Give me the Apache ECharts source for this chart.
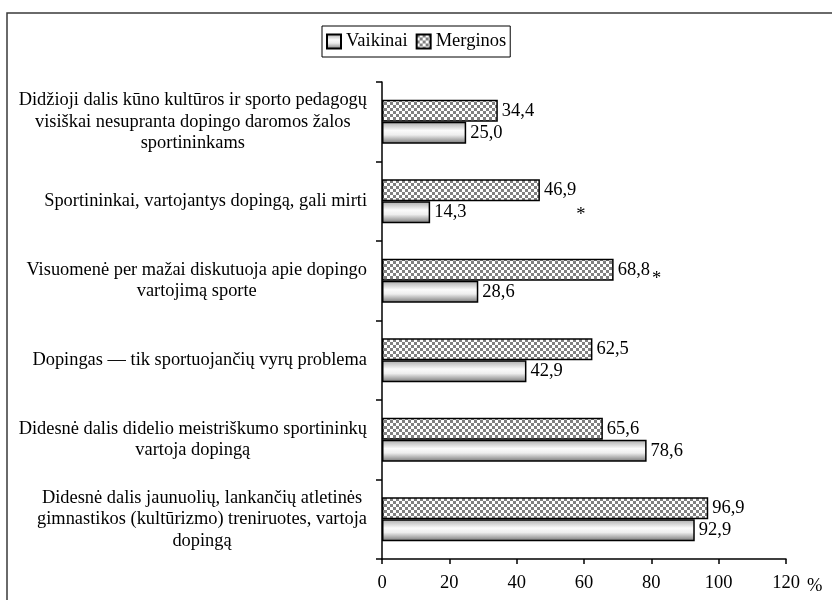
<!DOCTYPE html>
<html>
<head>
<meta charset="utf-8">
<script src="https://cdn.jsdelivr.net/npm/echarts@6/dist/echarts.min.js"></script>
<style>html,body{margin:0;padding:0;background:#fff;}#c{width:832px;height:600px;}</style>
</head>
<body>
<div id="c"></div>
<script>
// Categories listed bottom-to-top (as the category axis runs)
var categories = [
  'Didesnė dalis jaunuolių, lankančių atletinės\ngimnastikos (kultūrizmo) treniruotes, vartoja\ndopingą',
  'Didesnė dalis didelio meistriškumo sportininkų\nvartoja dopingą',
  'Dopingas — tik sportuojančių vyrų problema',
  'Visuomenė per mažai diskutuoja apie dopingo\nvartojimą sporte',
  'Sportininkai, vartojantys dopingą, gali mirti',
  'Didžioji dalis kūno kultūros ir sporto pedagogų\nvisiškai nesupranta dopingo daromos žalos\nsportininkams'
];
var vaikinai = [92.9, 78.6, 42.9, 28.6, 14.3, 25.0];
var merginos = [96.9, 65.6, 62.5, 68.8, 46.9, 34.4];
var significance = ['', '', '', '*', '*', ''];
var seriesNames = ['Vaikinai', 'Merginos'];
var xTicks = [0, 20, 40, 60, 80, 100, 120];

var FONT = "'Liberation Serif', 'Times New Roman', serif";

// checker pattern for Merginos
var pc = document.createElement('canvas');
pc.width = 6; pc.height = 6;
var pctx = pc.getContext('2d');
pctx.fillStyle = '#ffffff'; pctx.fillRect(0, 0, 6, 6);
pctx.fillStyle = '#808080'; pctx.fillRect(0, 0, 3, 3); pctx.fillRect(3, 3, 3, 3);

var gradFill = new echarts.graphic.LinearGradient(0, 0, 0, 1, [
  {offset: 0, color: '#a8a8a8'},
  {offset: 0.4, color: '#fbfbfb'},
  {offset: 0.6, color: '#eeeeee'},
  {offset: 1, color: '#747474'}
]);

function fmtNum(v) { return v.toFixed(1).replace('.', ','); }

var starOffsets = {3: [43, 9], 4: [41, 25]};
var starData = [];
significance.forEach(function (s, i) {
  if (s) {
    starData.push({
      coord: [merginos[i], i],
      label: {offset: starOffsets[i] || [36, 0]}
    });
  }
});

var chart = echarts.init(document.getElementById('c'), null, {renderer: 'canvas'});
chart.setOption({
  animation: false,
  backgroundColor: '#ffffff',
  textStyle: {fontFamily: FONT, color: '#000'},
  graphic: [{
    type: 'rect',
    shape: {x: 7, y: 13, width: 900, height: 700},
    style: {fill: 'none', stroke: '#3a3a3a', lineWidth: 1.5},
    silent: true, z: -1
  }],
  legend: {
    data: seriesNames,
    left: 322, top: 26,
    orient: 'horizontal',
    icon: 'rect',
    itemWidth: 14, itemHeight: 14, itemGap: 8,
    padding: [6, 4, 6, 4],
    borderColor: '#000', borderWidth: 1,
    textStyle: {fontFamily: FONT, fontSize: 18.5, color: '#000'}
  },
  grid: {left: 382, right: 46, top: 82, bottom: 41, containLabel: false},
  xAxis: {
    type: 'value', min: 0, max: 120, interval: 20,
    name: '%', nameLocation: 'end', nameGap: 21,
    nameTextStyle: {fontFamily: FONT, fontSize: 18.5, color: '#000', verticalAlign: 'top', padding: [18, 0, 0, 0]},
    axisLine: {show: true, lineStyle: {color: '#000', width: 1.5}},
    axisTick: {show: true, length: 5, lineStyle: {color: '#000', width: 1.5}},
    axisLabel: {fontFamily: FONT, fontSize: 18.5, color: '#000', margin: 15,
      formatter: function (v) { return xTicks.indexOf(v) >= 0 ? String(v) : ''; }},
    splitLine: {show: false}
  },
  yAxis: {
    type: 'category', data: categories,
    axisLine: {show: true, lineStyle: {color: '#000', width: 1.5}},
    axisTick: {show: true, length: 6, lineStyle: {color: '#000', width: 1.5}},
    axisLabel: {
      margin: 15, color: '#000',
      formatter: function (v) {
        return v.split('\n').map(function (l) { return '{c|' + l + '}'; }).join('\n');
      },
      rich: {c: {fontFamily: FONT, fontSize: 18.4, lineHeight: 21.5, color: '#000', align: 'center'}}
    }
  },
  series: [
    {
      name: seriesNames[1], type: 'bar', data: merginos,
      barWidth: 22, barGap: '0%',
      itemStyle: {color: {image: pc, repeat: 'repeat'}, borderColor: '#000', borderWidth: 1.5},
      label: {show: true, position: 'right', distance: 4, fontFamily: FONT, fontSize: 18.5, color: '#000',
        formatter: function (p) { return fmtNum(p.value); }},
      markPoint: {
        symbol: 'circle', symbolSize: 0,
        label: {show: true, formatter: '*', fontFamily: FONT, fontSize: 18.5, color: '#000'},
        data: starData
      }
    },
    {
      name: seriesNames[0], type: 'bar', data: vaikinai,
      barWidth: 22, barGap: '0%',
      itemStyle: {color: gradFill, borderColor: '#000', borderWidth: 1.5},
      label: {show: true, position: 'right', distance: 4, fontFamily: FONT, fontSize: 18.5, color: '#000',
        formatter: function (p) { return fmtNum(p.value); }}
    }
  ]
});
</script>
</body>
</html>
